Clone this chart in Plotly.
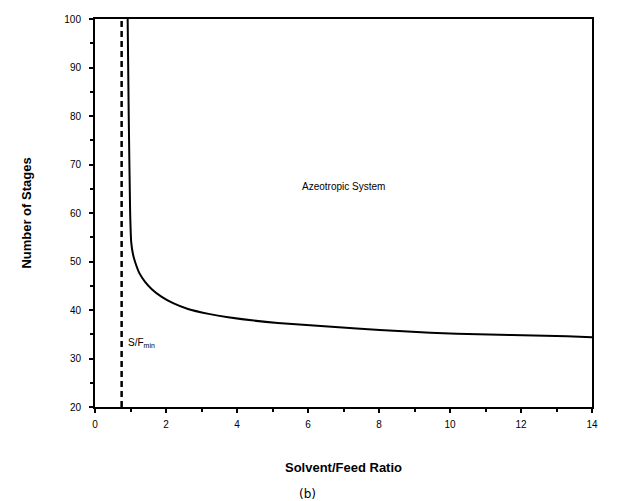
import plotly.graph_objects as go

# Data
curve_x = [0.92, 0.95, 0.99, 1.02, 1.07, 1.13, 1.25, 1.41, 1.6, 1.88, 2.2, 2.62, 3.2, 3.75,
           5.15, 7.37, 8.68, 10.19, 13.3, 14.0]
curve_y = [100, 80, 60, 54, 51.5, 49.9, 47.6, 45.8, 44.3, 42.7, 41.4, 40.2, 39.2, 38.5,
           37.3, 36.2, 35.6, 35.1, 34.6, 34.4]
sf_min = 0.75
y_range = [20, 100]
x_range = [0, 14]
x_ticks = [0, 2, 4, 6, 8, 10, 12, 14]
y_ticks = [20, 30, 40, 50, 60, 70, 80, 90, 100]

fig = go.Figure()
fig.add_trace(go.Scatter(x=curve_x, y=curve_y, mode="lines",
                         line=dict(color="black", width=2, shape="spline", smoothing=0.4),
                         showlegend=False))
fig.add_trace(go.Scatter(x=[sf_min, sf_min], y=y_range, mode="lines",
                         line=dict(color="black", width=2.5, dash="6px,4px"), showlegend=False))

fig.add_annotation(x=7.0, y=65.5, text="Azeotropic System", showarrow=False,
                   font=dict(family="Liberation Sans", size=10, color="black"))
fig.add_annotation(x=0.88, y=33.3, text="S/F<sub>min</sub>", showarrow=False, xanchor="left",
                   font=dict(family="Liberation Sans", size=10, color="black"))
fig.add_annotation(x=0.427, xref="paper", y=-0.2, yref="paper", text="(b)", showarrow=False,
                   yanchor="top", font=dict(family="DejaVu Sans", size=12, color="black"))

axis_common = dict(showline=True, linecolor="black", linewidth=2, mirror=True,
                   ticks="outside", ticklen=4, tickwidth=1.5, tickcolor="black",
                   showgrid=False, zeroline=False,
                   tickfont=dict(family="Liberation Sans", size=10, color="black"))

fig.update_xaxes(range=x_range, tickvals=x_ticks, ticklabelstandoff=3,
                 minor=dict(ticks="outside", ticklen=3, dtick=1, tickcolor="black"),
                 title=dict(text="<b>Solvent/Feed Ratio</b>", standoff=34,
                            font=dict(family="Liberation Sans", size=13, color="black")),
                 **axis_common)
fig.update_yaxes(range=y_range, tickvals=y_ticks, ticklabelstandoff=6,
                 minor=dict(ticks="outside", ticklen=3, dtick=5, tickcolor="black"),
                 title=dict(text="<b>Number of Stages</b>", standoff=30,
                            font=dict(family="Liberation Sans", size=13, color="black")),
                 **axis_common)

fig.update_layout(width=617, height=501, margin=dict(l=87, r=33, t=5, b=102),
                  plot_bgcolor="white", paper_bgcolor="white")

fig.write_html("out.html")
